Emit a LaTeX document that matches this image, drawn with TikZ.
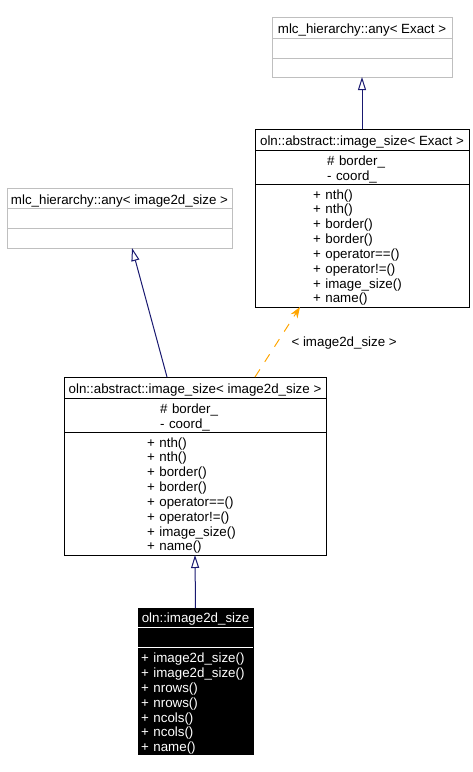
\documentclass[tikz,border=0pt]{standalone}
\usepackage{fontspec}
\setmainfont{Liberation Sans}
\usetikzlibrary{shapes,arrows,arrows.meta,positioning}

\definecolor{edgeblue}{HTML}{191970}
\definecolor{edgeorange}{HTML}{FFA500}
\definecolor{boxgray}{HTML}{BFBFBF}

\begin{document}
\begin{tikzpicture}[x=1pt, y=-1pt, font=\fontsize{13.33}{14.85}\selectfont]
    % Define block styles
    \tikzstyle{block} = [rectangle, draw, line width=1pt, anchor=north west, inner sep=0pt, outer sep=0pt]
    \tikzstyle{title} = [anchor=base, inner sep=0pt]
    \tikzstyle{members} = [anchor=base west, inner sep=0pt, text width=150pt, align=left]
    \tikzstyle{divider} = [draw, line width=1pt]
    \tikzstyle{line} = [draw, line width=1pt, edgeblue, -{Triangle[open, length=13pt, width=8pt]}]
    \tikzstyle{dashline} = [draw, line width=1pt, edgeorange, dash pattern=on 9pt off 9pt, -{Stealth[length=11pt, width=8pt]}]

    \useasboundingbox (0,0) rectangle (473,772);

    % Nodes
    \node [block, draw=boxgray, minimum width=180pt, minimum height=60pt] (Any_Exact) at (272,17) {};
    \node [title] (Any_Exact_Title) at ([yshift=-16.3pt]Any_Exact.north) {mlc\_hierarchy::any< Exact >};
    \path [divider, boxgray] ([yshift=-21pt]Any_Exact.north west) -- ([yshift=-21pt]Any_Exact.north east);
    \path [divider, boxgray] ([yshift=-41pt]Any_Exact.north west) -- ([yshift=-41pt]Any_Exact.north east);

    \node [block, minimum width=214pt, minimum height=178pt] (Size_Exact) at (255,129) {};
    \node [title] (Size_Exact_Title) at ([yshift=-16.3pt]Size_Exact.north) {oln::abstract::image\_size< Exact >};
    \path [divider] ([yshift=-21pt]Size_Exact.north west) -- ([yshift=-21pt]Size_Exact.north east);
    \path [divider] ([yshift=-55pt]Size_Exact.north west) -- ([yshift=-55pt]Size_Exact.north east);
    \node [members] (Size_Exact_Attr) at ([xshift=72pt, yshift=-36.5pt]Size_Exact.north west) {\# border\_\\- coord\_};
    \node [members] (Size_Exact_Ops) at ([xshift=58pt, yshift=-70pt]Size_Exact.north west) {+ nth()\\+ nth()\\+ border()\\+ border()\\+ operator==()\\+ operator!=()\\+ image\_size()\\+ name()};

    \node [block, draw=boxgray, minimum width=225pt, minimum height=60pt] (Any_Img) at (7,188) {};
    \node [title] (Any_Img_Title) at ([yshift=-16.3pt]Any_Img.north) {mlc\_hierarchy::any< image2d\_size >};
    \path [divider, boxgray] ([yshift=-20pt]Any_Img.north west) -- ([yshift=-20pt]Any_Img.north east);
    \path [divider, boxgray] ([yshift=-40pt]Any_Img.north west) -- ([yshift=-40pt]Any_Img.north east);

    \node [block, minimum width=262pt, minimum height=178pt] (Size_Img) at (64,377) {};
    \node [title] (Size_Img_Title) at ([yshift=-16.3pt]Size_Img.north) {oln::abstract::image\_size< image2d\_size >};
    \path [divider] ([yshift=-21pt]Size_Img.north west) -- ([yshift=-21pt]Size_Img.north east);
    \path [divider] ([yshift=-55pt]Size_Img.north west) -- ([yshift=-55pt]Size_Img.north east);
    \node [members] (Size_Img_Attr) at ([xshift=96pt, yshift=-36.5pt]Size_Img.north west) {\# border\_\\- coord\_};
    \node [members] (Size_Img_Ops) at ([xshift=83pt, yshift=-70pt]Size_Img.north west) {+ nth()\\+ nth()\\+ border()\\+ border()\\+ operator==()\\+ operator!=()\\+ image\_size()\\+ name()};

    \node [block, fill=black, minimum width=115pt, minimum height=146pt] (Img2d) at (138,608) {};
    \node [title, text=white] (Img2d_Title) at ([yshift=-14pt]Img2d.north) {oln::image2d\_size};
    \path [divider, white] ([yshift=-19pt]Img2d.north west) -- ([yshift=-19pt]Img2d.north east);
    \path [divider, white] ([yshift=-39pt]Img2d.north west) -- ([yshift=-39pt]Img2d.north east);
    \node [members, text=white] (Img2d_Ops) at ([xshift=3pt, yshift=-54.7pt]Img2d.north west) {+ image2d\_size()\\+ image2d\_size()\\+ nrows()\\+ nrows()\\+ ncols()\\+ ncols()\\+ name()};

    % Arrows
    \path [line] (Size_Exact.north) -- (Any_Exact.south);
    \path [line] ([xshift=-28pt]Size_Img.north) -- ([xshift=12.5pt]Any_Img.south);
    \path [dashline] ([xshift=60pt]Size_Img.north) -- node [pos=0.49, right=14pt, inner sep=0pt, text=black] (Size_Img_Label) {< image2d\_size >} ([xshift=-62pt]Size_Exact.south);
    \path [line] (Img2d.north) -- (Size_Img.south);

\end{tikzpicture}
\end{document}
